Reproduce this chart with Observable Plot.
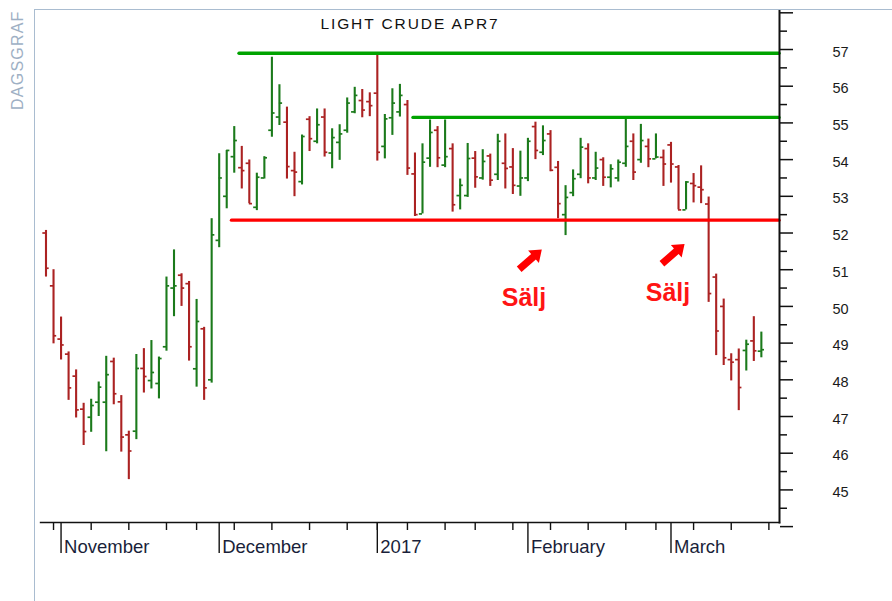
<!DOCTYPE html>
<html><head><meta charset="utf-8">
<script src="https://cdn.jsdelivr.net/npm/d3@7"></script>
<script src="https://cdn.jsdelivr.net/npm/@observablehq/plot@0.6"></script>
<style>
html,body{margin:0;padding:0;background:#fff;}
#wrap{position:relative;width:892px;height:601px;overflow:hidden;}
#wrap svg{display:block;}
#border{position:absolute;left:34px;top:9px;right:-4px;bottom:-4px;border-left:1px solid #a9bcd0;border-top:1px solid #a9bcd0;pointer-events:none;}
</style></head><body><div id="wrap"></div>
<script>
// Trading-day index 0 = 28 Oct 2016 ... 95 = 17 Mar 2017
const opens = [52.0,50.56,49.11,48.7,48.1,47.2,46.98,47.39,47.39,48.5, 47.4,46.5,46.6,48.31,47.98,47.9,48.9,50.5,50.85,50.62, 48.3,49.39,48.0,51.8,53.0,54.08,53.78,53.9,52.7,53.5, 54.8,55.16,55.02,53.7,53.4,55.1,54.5,55.16,54.18,54.47, 54.8,55.3,55.61,55.58,55.81,54.36,55.14,55.3,55.5,53.61, 52.52,54.04,54.8,53.85,54.3,53.02,53.02,54.04,53.5,54.1, 53.6,53.9,53.8,53.28,53.5,54.9,54.2,54.7,53.79,52.5, 53.1,53.6,54.3,53.5,54.0,53.52,53.5,53.9,54.5,54.0, 54.36,54.02,54.06,54.4,53.8,52.63,53.35,53.25,52.79,50.8, 50.0,48.55,48.55,48.8,49.06,48.78];
const highs = [52.07,51.0,49.71,48.76,48.27,47.36,47.47,47.94,48.64,48.59, 47.57,46.6,48.69,48.85,49.07,48.62,50.8,51.54,50.89,50.68, 50.19,49.43,52.39,54.16,54.25,54.9,54.36,53.99,53.63,54.08, 56.79,56.04,55.43,54.2,54.67,55.17,55.38,55.38,54.84,54.95, 55.68,55.97,55.91,55.82,56.84,55.23,55.93,56.05,55.61,54.18, 54.43,55.08,54.9,55.08,54.43,53.47,54.44,54.22,54.27,54.15, 54.69,54.7,54.3,54.23,54.58,55.02,54.92,54.79,53.95,53.29, 53.72,54.58,54.43,54.2,54.05,53.86,53.99,55.11,54.7,54.96, 54.56,54.7,54.26,54.47,53.84,53.4,53.62,53.83,52.98,50.88, 50.2,48.71,48.84,49.08,49.72,49.3];
const lows = [50.80,48.98,48.54,47.44,46.96,46.21,46.57,47.0,46.04,47.32, 46.03,45.28,46.37,47.64,47.75,47.48,48.78,49.72,50.0,48.51, 47.8,47.44,47.91,51.6,52.66,53.63,53.2,52.8,52.61,53.47, 54.61,54.93,53.47,52.99,53.31,54.22,54.43,54.07,53.75,53.98, 54.72,55.25,55.14,55.17,53.96,54.02,54.66,55.16,53.57,52.45, 52.52,53.79,53.78,53.78,52.57,52.63,52.97,53.22,53.44,53.27, 53.43,53.2,53.05,53.0,53.4,54.0,54.11,53.67,52.39,51.93, 52.99,53.48,53.34,53.43,53.27,53.23,53.39,53.79,53.43,53.9, 53.78,54.02,53.27,53.36,52.63,52.63,52.82,52.8,50.11,48.66, 48.39,47.97,47.16,48.24,48.5,48.6];
const closes = [51.04,49.2,48.95,47.78,47.18,46.59,47.3,47.8,48.14,47.62, 46.44,46.06,48.31,48.09,48.2,48.58,50.56,50.56,50.5,48.9, 49.59,47.78,51.95,53.5,54.25,54.52,53.7,52.8,53.52,54.05, 55.27,55.54,53.81,53.66,54.63,54.57,54.95,54.2,54.6,54.7, 55.54,55.75,55.35,55.47,54.2,55.11,55.54,55.75,53.77,52.5, 53.93,54.74,54.05,54.08,52.77,53.3,54.03,53.53,53.95,53.44, 54.5,53.76,53.3,53.5,54.5,54.25,54.52,53.71,52.8,52.97, 53.48,54.34,53.5,53.77,53.52,53.75,53.93,54.36,53.66,54.52, 54.02,54.07,53.88,53.88,52.63,53.39,53.29,53.18,50.35,49.33, 48.6,48.48,47.79,48.97,48.79,48.82];

const months = ["November","December","2017","February","March"];
const monthStart = [2,23,44,64,83];
const weekStart = [1,6,11,16,20,25,30,35,40,44,48,53,57,62,67,72,77,81,86,91,96];
const yMajor = [44,45,46,47,48,49,50,51,52,53,54,55,56,57,58];
const yMinor = [44.5,45.5,46.5,47.5,48.5,49.5,50.5,51.5,52.5,53.5,54.5,55.5,56.5,57.5];
const yLabels = [45,46,47,48,49,50,51,52,53,54,55,56,57];

const levelValues = [56.9, 55.15, 52.35];
const levelStart = [25.7, 48.8, 24.7];
const levelKind = ["resistance","resistance","support"];

const signalX = [64.34, 83.3];
const signalY = [51.28, 51.43];
const signalLabelX = [63.48, 82.6];
const signalLabelY = [50.23, 50.37];
const signalText = ["Sälj","Sälj"];

const title = "LIGHT CRUDE APR7";
const source = "DAGSGRAF";

const xDomain = [-0.73, 97.41];
const yDomain = [44.112, 58.063];

const GREEN = "#1b7a1b", RED = "#ab2222";
const bars = opens.map((o,i)=>({i, open:o, high:highs[i], low:lows[i], close:closes[i]}));
const barColor = d => d.close >= d.open ? GREEN : RED;
const levels = levelValues.map((v,i)=>({value:v, from:levelStart[i], kind:levelKind[i]}));
const signals = signalX.map((x,i)=>({x, y:signalY[i], lx:signalLabelX[i], ly:signalLabelY[i], text:signalText[i]}));

const blockArrow = {draw(ctx, l) {
  const s = 3.6, h = 8.2, hl = 11;
  ctx.moveTo(-s, 0); ctx.lineTo(-s, -(l-hl)); ctx.lineTo(-h, -(l-hl));
  ctx.lineTo(0, -l); ctx.lineTo(h, -(l-hl)); ctx.lineTo(s, -(l-hl)); ctx.lineTo(s, 0); ctx.closePath();
}};

const chart = Plot.plot({
  width: 892, height: 601,
  marginLeft: 40, marginRight: 113, marginTop: 10, marginBottom: 79,
  x: {domain: xDomain, axis: null},
  y: {domain: yDomain, axis: null},
  style: {fontFamily: "'Liberation Sans', Arial, sans-serif", background: "#fff", color: "#111", overflow: "visible"},
  marks: [
    Plot.ruleX(bars, {x: "i", y1: "low", y2: "high", stroke: barColor, strokeWidth: 2.1}),
    Plot.ruleY(bars, {y: "open", x1: d => d.i - 0.42, x2: "i", stroke: barColor, strokeWidth: 1.7}),
    Plot.ruleY(bars, {y: "close", x1: "i", x2: d => d.i + 0.42, stroke: barColor, strokeWidth: 1.7}),
    Plot.ruleY(levels, {y: "value", x1: "from", x2: () => xDomain[1], stroke: d => d.kind === "support" ? "#ff0000" : "#00a300", strokeWidth: 3.4, strokeLinecap: "round"}),
    Plot.frame({anchor: "bottom", stroke: "#111", strokeWidth: 1.4}),
    Plot.frame({anchor: "right", stroke: "#111", strokeWidth: 2}),
    Plot.axisX({ticks: weekStart, tickSize: 8, fill: "none", stroke: "#111", strokeWidth: 1.4}),
    Plot.axisX({ticks: monthStart, tickSize: 31, fill: "none", stroke: "#111", strokeWidth: 1.4}),
    Plot.axisX({ticks: monthStart, tickSize: 0, tickPadding: 17.5, tickFormat: v => months[monthStart.indexOf(v)], textAnchor: "start", dx: 3, fontSize: 18.5, fill: "#1a1f3a"}),
    Plot.axisY({anchor: "right", ticks: yMajor, tickSize: 13, fill: "none", stroke: "#111", strokeWidth: 1.5}),
    Plot.axisY({anchor: "right", ticks: yMinor, tickSize: 7, fill: "none", stroke: "#111", strokeWidth: 1.5}),
    Plot.axisY({anchor: "right", ticks: yLabels, tickSize: 0, tickPadding: 53, textAnchor: "start", fontSize: 14.5, dy: 2.5, fill: "#1a1a1a"}),
    Plot.vector(signals, {x: "x", y: "y", length: 30, rotate: 49, anchor: "middle", shape: blockArrow, fill: "#ff0000", stroke: "none"}),
    Plot.text(signals, {x: "lx", y: "ly", text: "text", fontSize: 25, fontWeight: "bold", fill: "#ff1414"}),
    Plot.text([title], {frameAnchor: "top", dy: 14, lineAnchor: "middle", fontSize: 15.5, fill: "#111"}),
    Plot.text([source], {frameAnchor: "top-left", dx: -23, dy: 0, rotate: -90, textAnchor: "end", lineAnchor: "middle", fontSize: 16, fill: "#9eb0c4"})
  ]
});
const wrap = document.getElementById("wrap");
wrap.appendChild(chart);
const border = document.createElement("div"); border.id = "border"; wrap.appendChild(border);
d3.select(chart).selectAll("text").filter(function(){ return this.textContent === title; }).attr("letter-spacing", "1.9px");
d3.select(chart).selectAll("text").filter(function(){ return this.textContent === source; }).attr("letter-spacing", "1.2px");
</script></body></html>
